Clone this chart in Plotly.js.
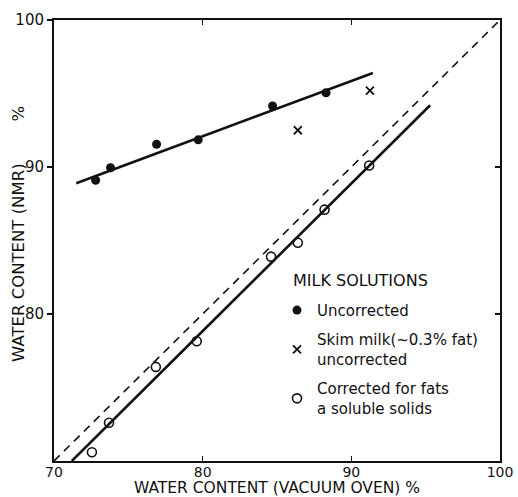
<!DOCTYPE html>
<html>
<head>
<meta charset="utf-8">
<script src="https://cdn.plot.ly/plotly-3.0.1.min.js"></script>
<style>
  html, body { margin: 0; padding: 0; background: #fff; }
  #chart { width: 518px; height: 497px; }
</style>
</head>
<body>
<div id="chart"></div>
<script>
// ---- data ----
const uncorrX = [72.8, 73.8, 76.9, 79.7, 84.7, 88.3];
const uncorrY = [89.1, 89.95, 91.55, 91.85, 94.15, 95.05];

const skimX = [86.4, 91.25];
const skimY = [92.5, 95.2];

const corrX = [72.55, 73.7, 76.85, 79.6, 84.6, 86.4, 88.2, 91.2];
const corrY = [70.6, 72.6, 76.4, 78.15, 83.9, 84.85, 87.1, 90.1];

// fitted lines (end points) and 1:1 line
const uncorrFitX = [71.5, 91.45];
const uncorrFitY = [88.9, 96.4];
const corrFitX = [71.2, 95.3];
const corrFitY = [70.0, 94.2];
const identX = [70, 100];
const identY = [70, 100];

const xTickVals = [70, 80, 90, 100];
const xTickText = ['70', '80', '90', '100'];
const yTickVals = [80, 90, 100];
const yTickText = ['80', '90', '100'];

const legendTitle = 'MILK SOLUTIONS';
const names = ['Uncorrected', 'Skim milk(~0.3% fat)<br>uncorrected', 'Corrected for fats<br>a soluble solids'];
const xTitle = 'WATER CONTENT (VACUUM OVEN) %';
const yTitle = 'WATER CONTENT (NMR)\u00a0\u00a0\u00a0\u00a0\u00a0\u00a0\u00a0\u00a0%';

const FONT = 'DejaVu Sans, sans-serif';
const INK = '#111';

const traces = [
  {x: identX, y: identY, mode: 'lines', line: {color: INK, width: 1.6, dash: '8px,6px'}, showlegend: false, hoverinfo: 'skip'},
  {x: uncorrFitX, y: uncorrFitY, mode: 'lines', line: {color: INK, width: 2.6}, showlegend: false, hoverinfo: 'skip'},
  {x: corrFitX, y: corrFitY, mode: 'lines', line: {color: INK, width: 2.6}, showlegend: false, hoverinfo: 'skip'},
  {x: uncorrX, y: uncorrY, mode: 'markers', name: names[0], legendgroup: 'a',
   marker: {symbol: 'circle', size: 9, color: INK, line: {width: 0}}},
  {x: skimX, y: skimY, mode: 'markers', name: names[1], legendgroup: 'b',
   marker: {symbol: 'x-thin-open', size: 8, color: INK, line: {width: 1.8, color: INK}}},
  {x: corrX, y: corrY, mode: 'markers', name: names[2], legendgroup: 'c',
   marker: {symbol: 'circle-open', size: 9, color: INK, line: {width: 1.6, color: INK}}},
  // carrier for the mirrored right-hand axis ticks
  {x: [], y: [], yaxis: 'y2', xaxis: 'x', showlegend: false, hoverinfo: 'skip'}
];

const layout = {
  width: 518, height: 497,
  margin: {l: 54, r: 18, t: 20, b: 36},
  paper_bgcolor: '#fff', plot_bgcolor: '#fff',
  font: {family: FONT, color: INK, size: 15},
  showlegend: true,
  legend: {
    x: 0.5, y: 0.379, xanchor: 'left', yanchor: 'top',
    bgcolor: 'rgba(0,0,0,0)', borderwidth: 0,
    font: {family: FONT, size: 15, color: INK},
    itemwidth: 30, tracegroupgap: 7
  },
  annotations: [
    {text: legendTitle, xref: 'paper', yref: 'paper', x: (291 - 54) / 446, y: (461 - 280) / 441,
     xanchor: 'left', yanchor: 'middle', showarrow: false,
     font: {family: FONT, size: 16, color: INK}},
    {text: yTitle, xref: 'paper', yref: 'paper', x: (18 - 54) / 446, y: (461 - 234) / 441,
     xanchor: 'center', yanchor: 'middle', textangle: -90, showarrow: false,
     font: {family: FONT, size: 16.5, color: INK}}
  ],
  xaxis: {
    range: [70, 100], tickmode: 'array', tickvals: xTickVals, ticktext: xTickText,
    ticks: 'inside', ticklen: 5, tickwidth: 1.5, tickcolor: INK,
    showline: true, linewidth: 2, linecolor: INK, mirror: 'ticks',
    showgrid: false, zeroline: false, ticklabelstandoff: -3,
    tickfont: {family: FONT, size: 14, color: INK},
    title: {text: xTitle, font: {family: FONT, size: 15.5, color: INK}, standoff: 1}
  },
  yaxis: {
    range: [70, 100], tickmode: 'array', tickvals: yTickVals, ticktext: yTickText,
    ticks: 'outside', ticklen: 5, tickwidth: 1.5, tickcolor: INK,
    showline: true, linewidth: 2, linecolor: INK, mirror: true,
    showgrid: false, zeroline: false,
    tickfont: {family: FONT, size: 15, color: INK}
  },
  yaxis2: {
    range: [70, 100], overlaying: 'y', side: 'right', tickmode: 'array', tickvals: yTickVals,
    ticks: 'inside', ticklen: 5, tickwidth: 1.5, tickcolor: INK, showticklabels: false,
    showline: false, showgrid: false, zeroline: false
  }
};

Plotly.newPlot('chart', traces, layout, {displayModeBar: false, staticPlot: true});
</script>
</body>
</html>
